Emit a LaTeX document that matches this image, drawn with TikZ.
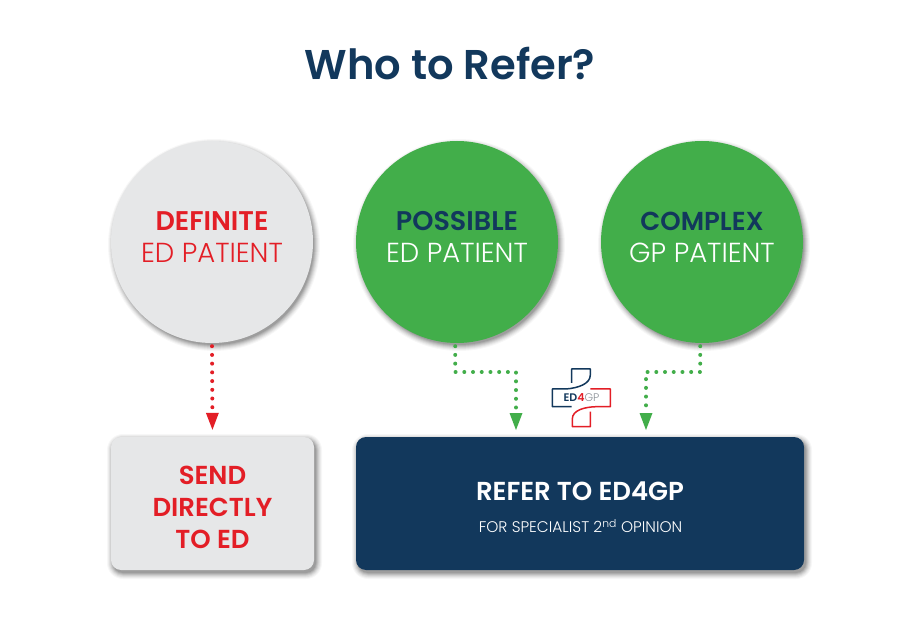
\documentclass[tikz,border=0pt]{standalone}
\usepackage{fontspec}
\setmainfont{Poppins}
\newfontfamily\lightf{Poppins Light}
\newfontfamily\semif{Poppins SemiBold}
\usetikzlibrary{arrows.meta,calc}
\definecolor{navy}{HTML}{12385C}
\definecolor{edred}{HTML}{E31E26}
\definecolor{edgreen}{HTML}{42AE4A}
\definecolor{pale}{HTML}{E6E7E8}
\definecolor{logogray}{HTML}{8A8F96}
\tikzset{
  x=1pt,y=-1pt,
  disc/.style={circle,minimum size=202pt,inner sep=0pt,align=center},
  card/.style={rounded corners=10pt,inner sep=0pt,align=center},
  flow/.style={line width=4pt,line cap=round,dash pattern=on 0pt off 8.72pt,shorten <=3pt,shorten >=7pt},
  redflow/.style={flow,draw=edred,-{Triangle[length=17pt,width=13pt,fill=edred,line width=0pt]}},
  greenflow/.style={flow,draw=edgreen,-{Triangle[length=17pt,width=13pt,fill=edgreen,line width=0pt]}},
  heading/.style={font=\semif\fontsize{41.6}{50}\selectfont,text=navy},
  strongtext/.style={font=\semif\fontsize{27}{27}\selectfont},
  thintext/.style={font=\lightf\fontsize{27.5}{27.5}\selectfont},
  logoline/.style={line width=1.5pt,line join=round},
}
\newcommand{\softcircle}[3]{%
  \foreach \g/\o in {6/.03,5/.04,4/.05,3/.06,2/.08,1/.09,0/.10}{
    \fill[black,opacity=\o] (#1+2,#2+3) circle[radius=#3+\g-1];
  }}
\newcommand{\softbox}[4]{%
  \foreach \g/\o in {6/.03,5/.04,4/.05,3/.06,2/.08,1/.09,0/.10}{
    \fill[black,opacity=\o,rounded corners=10pt+\g] (#1+2-\g,#2+3-\g) rectangle (#3+2+\g,#4+3+\g);
  }}
\begin{document}
\begin{tikzpicture}
\useasboundingbox (0,0) rectangle (900,636);
\fill[white] (0,0) rectangle (900,636);
\node[heading] (title) at (450,63) {Who to Refer?};
\softcircle{212}{242}{101}
\softcircle{457}{242}{101}
\softcircle{702}{242}{101}
\softbox{111}{437}{314}{570}
\softbox{356}{437}{804}{570}
\node[disc,fill=pale] (c1) at (212,242) {};
\node[disc,fill=edgreen] (c2) at (457,242) {};
\node[disc,fill=edgreen] (c3) at (702,242) {};
\node[strongtext,text=edred] (t1a) at (212,221) {DEFINITE};
\node[thintext,text=edred] (t1b) at (212,253) {ED PATIENT};
\node[strongtext,text=navy] (t2a) at (457,221) {POSSIBLE};
\node[thintext,text=white] (t2b) at (457,253) {ED PATIENT};
\node[strongtext,text=navy,font=\semif\fontsize{26}{26}\selectfont] (t3a) at (702,221) {COMPLEX};
\node[thintext,text=white] (t3b) at (702,253) {GP PATIENT};
\node[card,fill=pale,minimum width=203pt,minimum height=133pt] (b1) at (212.5,503.5) {};
\node[align=center,font=\semif\fontsize{26}{32}\selectfont,text=edred] (b1t) at (212.5,507) {SEND\\DIRECTLY\\TO ED};
\node[card,fill=navy,minimum width=448pt,minimum height=133pt] (b2) at (580,503.5) {};
\node[font=\semif\fontsize{26}{26}\selectfont,text=white] (b2a) at (580,491) {REFER TO ED4GP};
\node[font=\lightf\fontsize{15.4}{15.4}\selectfont,text=white] (b2b) at (580.5,526) {FOR SPECIALIST 2\textsuperscript{nd} OPINION};
\coordinate (e2) at (516,437);
\coordinate (e3) at (646,437);
\draw[redflow] (c1.south) -- (b1.north);
\draw[greenflow] (c2.-91) |- (516,372) -- (e2);
\draw[greenflow] (c3.-91) |- (646,372) -- (e3);
% logo
\draw[logoline,navy] (571.7,383) -- (571.7,369) -- (590.3,369) -- (590.3,375) .. controls (590.3,384) and (578,388) .. (566,389) -- (552.3,389) -- (552.3,406.7) -- (571.7,406.7);
\draw[logoline,edred] (590.3,389) -- (610.3,389) -- (610.3,406.7) -- (596,406.7) .. controls (585,407) and (572.3,410) .. (572.3,419) -- (572.3,426.7) -- (590.3,426.7) -- (590.3,411.7);
\node[font=\fontsize{11}{11}\selectfont,inner sep=0pt] (logotext) at (581.5,398) {\textcolor{navy}{\semif ED}\textcolor{edred}{\semif 4}\textcolor{logogray}{\lightf GP}};
\end{tikzpicture}
\end{document}
